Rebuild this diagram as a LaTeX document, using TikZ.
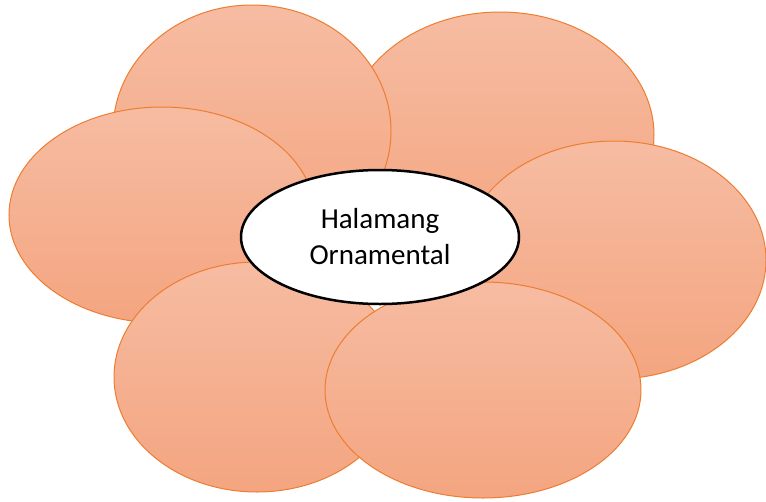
\documentclass[tikz,border=0pt]{standalone}
\usepackage{fontspec}
\setmainfont{Carlito}
\usepackage{tikz}
\usetikzlibrary{shapes.geometric,positioning}
\definecolor{petaltop}{RGB}{246,188,162}
\definecolor{petalbot}{RGB}{244,165,128}
\definecolor{petalline}{RGB}{237,125,49}

\begin{document}
\begin{tikzpicture}[x=1pt, y=-1pt, line width=1pt]
   \useasboundingbox (0,0) rectangle (766,501);
   \begin{scope}[every node/.style={ellipse,draw=petalline,top color=petaltop,bottom color=petalbot,inner sep=0pt}]
    \node (p1) [minimum width=308pt, minimum height=246pt] at (500,135) {};
    \node (p2) [minimum width=278pt, minimum height=252pt] at (252,131) {};
    \node (p3) [minimum width=306pt, minimum height=216pt] at (162,215) {};
    \node (p4) [minimum width=304pt, minimum height=238pt] at (614,260) {};
    \node (p5) [minimum width=286pt, minimum height=230pt] at (257,377) {};
    \node (p6) [minimum width=316pt, minimum height=216pt] at (483,390) {};
   \end{scope}
   \node (c) [ellipse, draw=black, line width=2.5pt, fill=white, inner sep=0pt,
     minimum width=278pt, minimum height=134pt, align=center,
     font=\fontsize{29}{36}\selectfont] at (380,237) {Halamang\\Ornamental};
\end{tikzpicture}
\end{document}
